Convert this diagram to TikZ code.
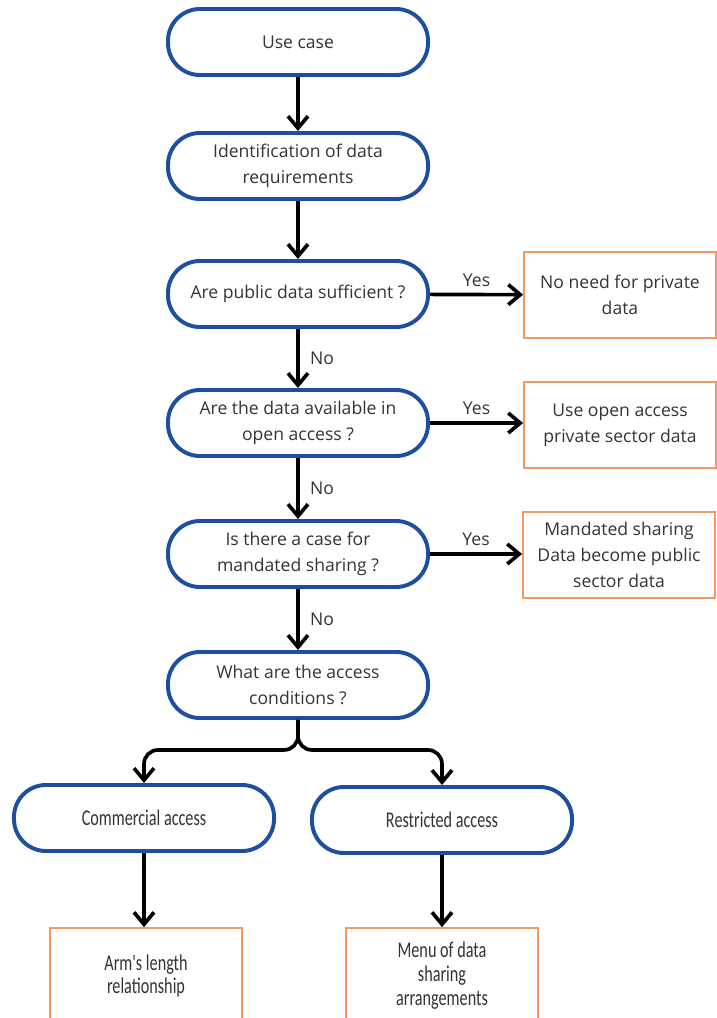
\documentclass[tikz,border=0pt]{standalone}
\usepackage{fontspec}
\setmainfont{Open Sans}
\newfontfamily\narrowfont[FakeStretch=0.72]{Carlito}
\usetikzlibrary{arrows.meta}

\definecolor{flowblue}{HTML}{1D4E9F}
\definecolor{boxorange}{HTML}{EE9A62}
\definecolor{inkgrey}{HTML}{333333}

\tikzset{
  stadium/.style={draw=flowblue, line width=2.8pt, rounded corners=0.8cm,
    minimum width=6.5cm, minimum height=1.65cm, align=center, text=inkgrey,
    font=\fontsize{12.5}{18.5}\selectfont},
  outbox/.style={draw=boxorange, line width=1.2pt, minimum width=4.8cm,
    minimum height=2.15cm, align=center, text=inkgrey,
    font=\fontsize{12.5}{18.5}\selectfont},
  narrow/.style={font=\narrowfont\fontsize{16}{17}\selectfont},
  flow/.style={line width=2.6pt, -{Straight Barb[length=3mm, width=5mm, line width=2.6pt]}},
  tag/.style={text=inkgrey, font=\fontsize{12.5}{15}\selectfont}
}

\begin{document}
\begin{tikzpicture}[x=0.025cm, y=-0.025cm]

\useasboundingbox (0,0) rectangle (716,1018);

% main column
\node[stadium] (usecase) at (298,42) {Use case};
\node[stadium] (ident) at (298,166) {Identification of data\\requirements};
\node[stadium] (public) at (298,294) {Are public data sufficient ?};
\node[stadium] (open) at (298,423) {Are the data available in\\open access ?};
\node[stadium] (mandate) at (298,554) {Is there a case for\\mandated sharing ?};
\node[stadium] (cond) at (298,685) {What are the access\\conditions ?};

% outcomes on the right
\node[outbox] (nopriv) at (620,295) {No need for private\\data};
\node[outbox] (useopen) at (620,425) {Use open access\\private sector data};
\node[outbox] (mshare) at (619,555) {Mandated sharing\\Data become public\\sector data};

% two access routes
\node[stadium, narrow] (comm) at (144,818) {Commercial access};
\node[stadium, narrow] (restr) at (442,820) {Restricted access};
\node[outbox, narrow, minimum height=2.4cm] (arms) at (146,976) {Arm's length\\relationship};
\node[outbox, narrow, minimum height=2.4cm] (menu) at (442,976) {Menu of data\\sharing\\arrangements};

% draw connectors
\draw[flow] (usecase) -- (ident);
\draw[flow] (ident) -- (public);
\draw[flow] (public) -- node[tag, right=4pt] {No} (open);
\draw[flow] (open) -- node[tag, right=4pt] {No} (mandate);
\draw[flow] (mandate) -- node[tag, right=4pt] {No} (cond);

\draw[flow] (public) -- node[tag, above=1pt] {Yes} (nopriv);
\draw[flow] (open.east) -- node[tag, above=1pt] {Yes} (open.east -| useopen.west);
\draw[flow] (mandate.east) -- node[tag, above=1pt] {Yes} (mandate.east -| mshare.west);

% split into the two routes
\draw[flow, rounded corners=0.35cm] (cond.south) -- ++(0,30) -| (comm.north);
\draw[flow, rounded corners=0.35cm] (cond.south) -- ++(0,30) -| (restr.north);

\draw[flow] (comm) -- (comm.south |- arms.north);
\draw[flow] (restr) -- (menu);

\end{tikzpicture}
\end{document}
